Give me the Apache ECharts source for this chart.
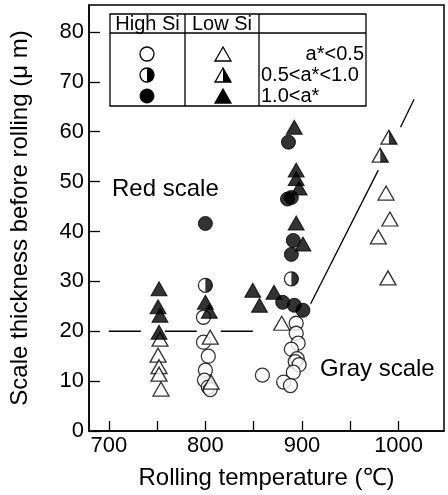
<!DOCTYPE html>
<html>
<head>
<meta charset="utf-8">
<script src="https://cdn.jsdelivr.net/npm/echarts@6/dist/echarts.min.js"></script>
<style>
html, body { margin: 0; padding: 0; background: #fff; }
#chart { width: 448px; height: 495px; }
</style>
</head>
<body>
<div id="chart"></div>
<script>
// axis ticks / labels
const xTicks = [700, 750, 800, 850, 900, 950, 1000]
const xLabels = [700, 800, 900, 1000]
const yTicks = [0, 10, 20, 30, 40, 50, 60, 70, 80]

// High Si (circles)  [temperature, thickness]
const highLow = [ // a*<0.5
    [798, 22.8], [798, 17.8], [803, 15.0], [800, 12.2], [799, 10.2], [803, 8.8], [805, 8.3],
    [859, 11.2],
    [894, 21.6], [894, 19.6], [896, 17.6], [889, 16.4], [895, 14.5], [893, 13.9], [897, 13.3],
    [891, 11.8], [881, 9.8], [888, 9.1]
]
const highMid = [ // 0.5<a*<1.0
    [800, 29.2], [889, 30.5]
]
const highHigh = [ // 1.0<a*
    [800, 41.6], [886, 57.9], [885, 46.5], [889, 46.8], [891, 38.2], [889, 35.4],
    [880, 25.8], [892, 25.2], [901, 24.2]
]

// Low Si (triangles)
const lowLow = [
    [753, 18.4], [751, 15.2], [752, 12.9], [752, 11.4], [754, 8.4],
    [805, 18.8], [806, 9.8],
    [879, 21.6],
    [987, 47.7], [991, 42.5], [979, 38.9], [989, 30.7]
]
const lowMid = [
    [990, 58.9], [981, 55.3]
]
const lowHigh = [
    [752, 28.5], [751, 24.9], [753, 23.2], [752, 19.8],
    [800, 25.8], [804, 24.0],
    [849, 28.2], [856, 25.2], [871, 27.8],
    [892, 60.9], [894, 52.3], [894, 50.6], [897, 48.7], [894, 41.7], [901, 37.5]
]

// guide lines
const redLine = [[700, 20], [873, 20]]
const grayLineLow = [[909, 25.5], [979, 52.3]]
const grayLineHigh = [[1002, 60.9], [1016, 66.5]]

const FONT = "'Liberation Sans', Arial, sans-serif"
const HALF_DISC = "path://M0,0 A10,10 0 0 1 0,20 Z"
const HALF_TRI = "path://M0,0 L0,10 L5,10 Z"
const CIRCLE = 14
const TRI = [16, 14]

let openStyle = { color: "#fff", borderColor: "#000", borderWidth: 1.3 }
let fillStyle = { color: "#000", borderColor: "#000", borderWidth: 1 }

function scatter(data, symbol, size, style, offset){
    return {
        type: "scatter",
        data: data,
        symbol: symbol,
        symbolSize: size,
        symbolOffset: offset || [0, 0],
        itemStyle: style,
        silent: true,
        z: 3
    }
}
function guide(data, dash){
    return {
        type: "line",
        data: data,
        symbol: "none",
        silent: true,
        lineStyle: { color: "#000", width: 1.3, type: dash || "solid" },
        z: 2
    }
}

// legend table, drawn as graphics
let rows = [54, 75, 96]
let legendFont = "20px " + FONT
let legend = [
    { type: "rect", shape: { x: 110, y: 14, width: 256, height: 92 }, style: { fill: "#fff", stroke: "#000", lineWidth: 1.3 } },
    { type: "line", shape: { x1: 110, y1: 33, x2: 366, y2: 33 }, style: { stroke: "#000", lineWidth: 1.3 } },
    { type: "line", shape: { x1: 185, y1: 14, x2: 185, y2: 106 }, style: { stroke: "#000", lineWidth: 1.3 } },
    { type: "line", shape: { x1: 259, y1: 14, x2: 259, y2: 106 }, style: { stroke: "#000", lineWidth: 1.3 } },
    { type: "text", x: 147.5, y: 24, style: { text: "High Si", font: legendFont, fill: "#000", align: "center", verticalAlign: "middle" } },
    { type: "text", x: 222, y: 24, style: { text: "Low Si", font: legendFont, fill: "#000", align: "center", verticalAlign: "middle" } },
    { type: "text", x: 364, y: rows[0], style: { text: "a*<0.5", font: legendFont, fill: "#000", align: "right", verticalAlign: "middle" } },
    { type: "text", x: 261, y: rows[1], style: { text: "0.5<a*<1.0", font: legendFont, fill: "#000", align: "left", verticalAlign: "middle" } },
    { type: "text", x: 261, y: rows[2], style: { text: "1.0<a*", font: legendFont, fill: "#000", align: "left", verticalAlign: "middle" } },
    // circles
    { type: "circle", shape: { cx: 147, cy: rows[0], r: 7 }, style: { fill: "#fff", stroke: "#000", lineWidth: 1.3 } },
    { type: "circle", shape: { cx: 147, cy: rows[1], r: 7 }, style: { fill: "#fff", stroke: "#000", lineWidth: 1.3 } },
    { type: "sector", shape: { cx: 147, cy: rows[1], r: 7, startAngle: -Math.PI / 2, endAngle: Math.PI / 2 }, style: { fill: "#000" } },
    { type: "circle", shape: { cx: 147, cy: rows[2], r: 7 }, style: { fill: "#000", stroke: "#000", lineWidth: 1 } },
]
function tri(cx, cy, fill){
    return { type: "polygon", shape: { points: [[cx, cy - 7], [cx - 8, cy + 7], [cx + 8, cy + 7]] }, style: { fill: fill, stroke: "#000", lineWidth: 1.3 } }
}
legend.push(tri(223, rows[0], "#fff"))
legend.push(tri(223, rows[1], "#fff"))
legend.push({ type: "polygon", shape: { points: [[223, rows[1] - 7], [223, rows[1] + 7], [231, rows[1] + 7]] }, style: { fill: "#000" } })
legend.push(tri(223, rows[2], "#000"))

let myChart = echarts.init(document.getElementById("chart"))
let option = {
    animation: false,
    backgroundColor: "#fff",
    textStyle: { fontFamily: FONT, color: "#000" },
    grid: {
        left: 87, right: 4, top: 5, bottom: 64,
        show: true,
        borderColor: "#000",
        borderWidth: 1.5
    },
    xAxis: {
        type: "value",
        min: 679.5,
        max: 1047,
        name: "Rolling temperature (\u2103)",
        nameLocation: "middle",
        nameGap: 35,
        nameTextStyle: { fontSize: 24, color: "#000", fontFamily: FONT },
        splitLine: { show: false },
        axisLine: { lineStyle: { color: "#000", width: 1.5 } },
        axisTick: { inside: true, length: 10, customValues: xTicks, lineStyle: { color: "#000", width: 1.3 } },
        axisLabel: { customValues: xLabels, formatter: v => String(v), fontSize: 22, color: "#000", margin: 4, fontFamily: FONT }
    },
    yAxis: {
        type: "value",
        min: 0,
        max: 85.4,
        name: "Scale thickness before rolling (\u03bc m)",
        nameLocation: "middle",
        nameGap: 57,
        nameTextStyle: { fontSize: 24, color: "#000", fontFamily: FONT },
        splitLine: { show: false },
        axisLine: { lineStyle: { color: "#000", width: 1.5 } },
        axisTick: { inside: true, length: 11, customValues: yTicks, lineStyle: { color: "#000", width: 1.3 } },
        axisLabel: { customValues: yTicks, formatter: v => String(v), fontSize: 22, color: "#000", margin: 5, fontFamily: FONT }
    },
    graphic: [
        { type: "text", left: 112, top: 177, style: { text: "Red scale", font: "24px " + FONT, fill: "#000" } },
        { type: "text", left: 320, top: 357, style: { text: "Gray scale", font: "24px " + FONT, fill: "#000" } },
        { type: "group", left: 0, top: 0, bounding: "raw", children: legend, z: 10 }
    ],
    series: [
        guide(redLine, [32, 24]),
        guide(grayLineLow),
        guide(grayLineHigh),
        scatter(highLow, "circle", CIRCLE, openStyle),
        scatter(lowLow, "triangle", TRI, openStyle),
        scatter(highMid, "circle", CIRCLE, openStyle),
        scatter(highMid, HALF_DISC, [7, 14], { color: "#000" }, [3.5, 0]),
        scatter(lowMid, "triangle", TRI, openStyle),
        scatter(lowMid, HALF_TRI, [8, 14], { color: "#000" }, [4, 0]),
        scatter(highHigh, "circle", CIRCLE, fillStyle),
        scatter(lowHigh, "triangle", TRI, fillStyle)
    ]
}
myChart.setOption(option)
</script>
</body>
</html>
